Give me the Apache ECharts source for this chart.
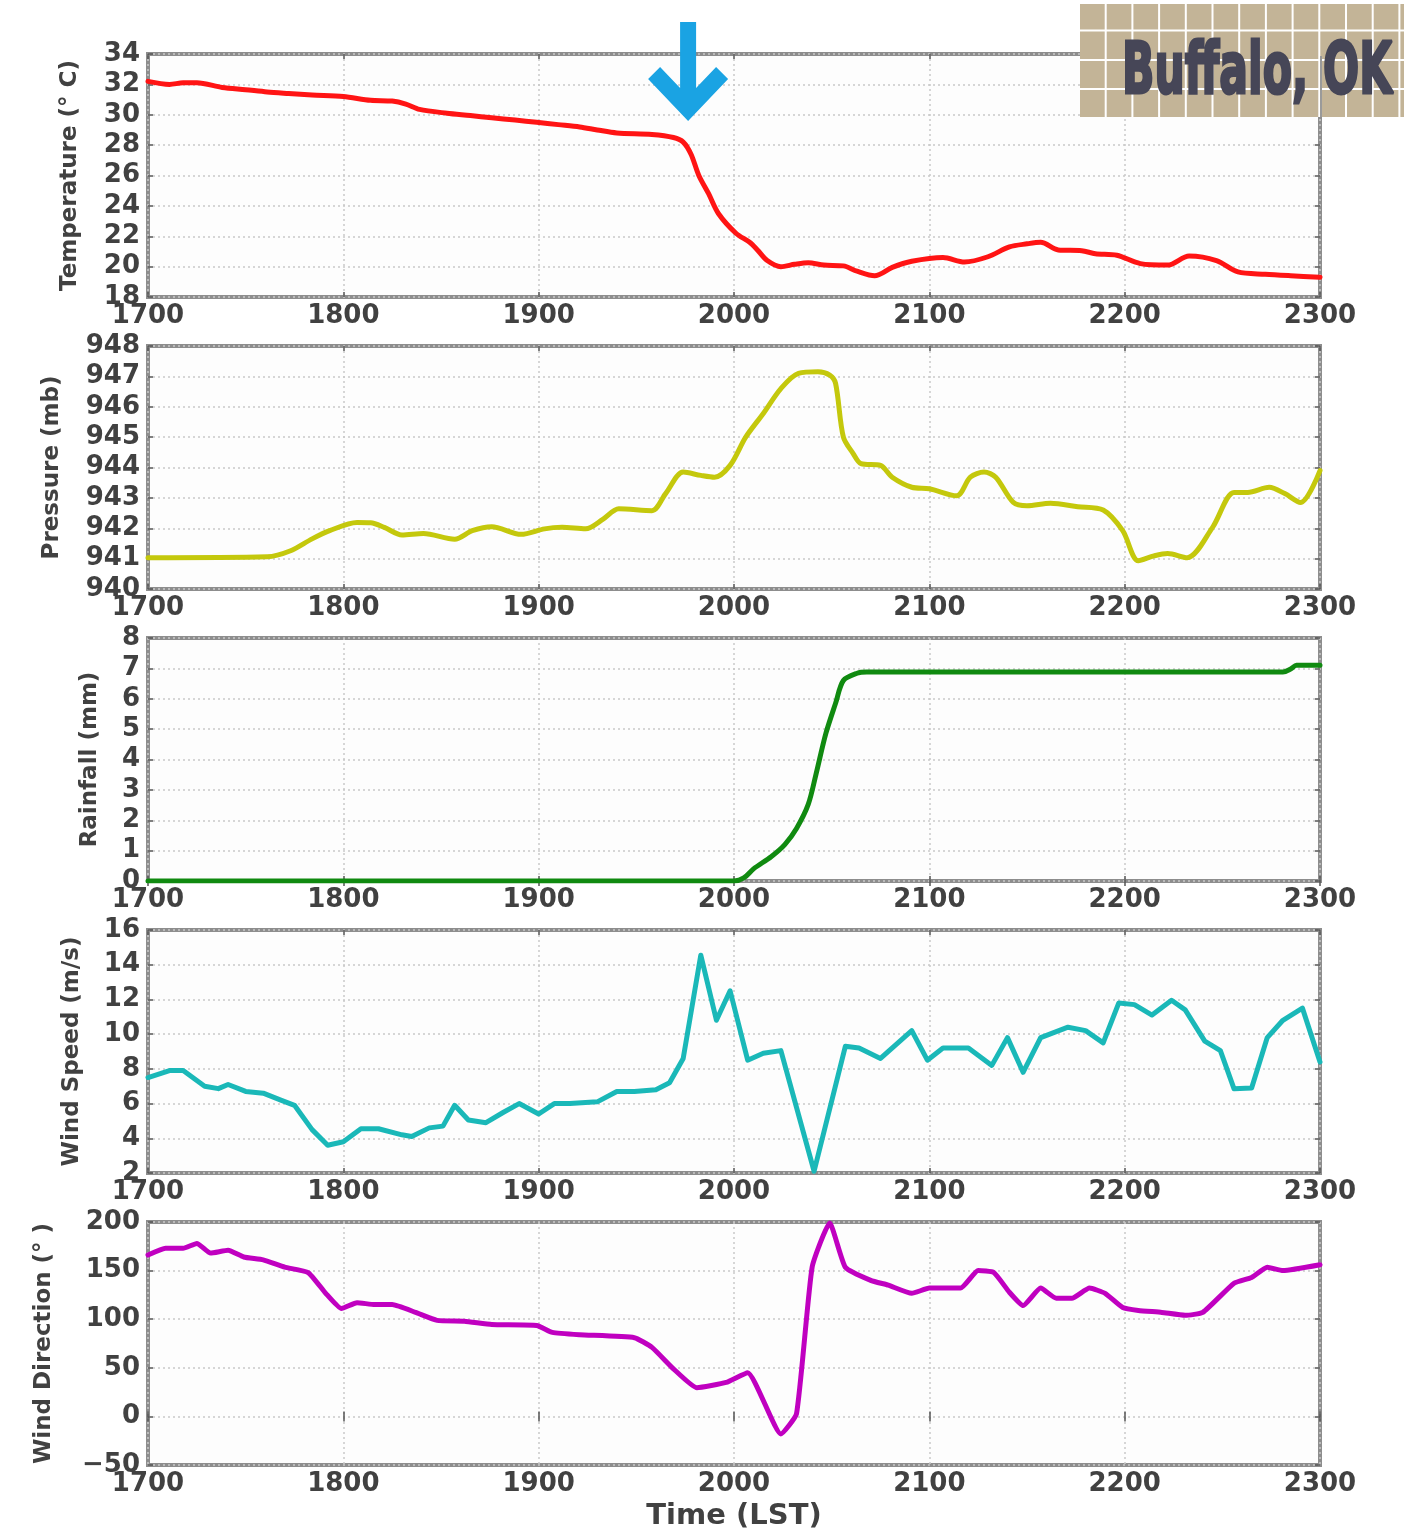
<!DOCTYPE html>
<html>
<head>
<meta charset="utf-8">
<title>Buffalo, OK surface observations</title>
<script src="https://cdn.jsdelivr.net/npm/echarts@6/dist/echarts.min.js"></script>
<style>
  html, body { margin: 0; padding: 0; background: #ffffff; }
  #chart { width: 1404px; height: 1537px; }
</style>
</head>
<body>
<div id="chart"></div>
<script>
// ---- Observations, time in LST (HHMM scale) ----
const xTicks = [1700, 1800, 1900, 2000, 2100, 2200, 2300];

const tempTime = [1700, 1711, 1718, 1725, 1738, 1750, 1761, 1772, 1784, 1800, 1814, 1825, 1832, 1839, 1853, 1865, 1876, 1888, 1899, 1910, 1921, 1930, 1940, 1958, 1969, 1974, 1978, 1982, 1987, 1992, 2001, 2008, 2012, 2017, 2024, 2031, 2038, 2046, 2056, 2063, 2072, 2081, 2091, 2107, 2118, 2130, 2141, 2150, 2157, 2166, 2178, 2185, 2196, 2208, 2222, 2233, 2247, 2258, 2272, 2285, 2300];
const tempC = [32.2, 32.0, 32.1, 32.1, 31.8, 31.65, 31.5, 31.4, 31.3, 31.2, 30.95, 30.9, 30.7, 30.35, 30.1, 29.95, 29.8, 29.65, 29.5, 29.35, 29.2, 29.0, 28.8, 28.7, 28.5, 28.2, 27.4, 26.0, 24.8, 23.5, 22.2, 21.6, 21.1, 20.4, 20.0, 20.15, 20.25, 20.1, 20.05, 19.7, 19.4, 19.95, 20.35, 20.6, 20.3, 20.65, 21.3, 21.5, 21.6, 21.1, 21.05, 20.85, 20.75, 20.2, 20.1, 20.7, 20.4, 19.65, 19.5, 19.4, 19.3];

const presTime = [1700, 1761, 1773, 1784, 1793, 1807, 1814, 1821, 1830, 1841, 1857, 1866, 1876, 1891, 1903, 1912, 1924, 1933, 1941, 1958, 1965, 1974, 1983, 1990, 1998, 2006, 2015, 2024, 2033, 2043, 2049, 2052, 2056, 2061, 2065, 2075, 2081, 2091, 2100, 2114, 2121, 2128, 2134, 2143, 2150, 2162, 2176, 2189, 2199, 2207, 2215, 2222, 2232, 2245, 2256, 2263, 2274, 2282, 2290, 2300];
const presMb = [941.03, 941.06, 941.26, 941.65, 941.92, 942.19, 942.18, 942.03, 941.78, 941.83, 941.64, 941.92, 942.05, 941.8, 941.98, 942.03, 941.98, 942.3, 942.64, 942.58, 943.14, 943.85, 943.74, 943.68, 944.07, 945.0, 945.78, 946.6, 947.1, 947.15, 947.04, 946.77, 945.0, 944.46, 944.13, 944.07, 943.68, 943.35, 943.3, 943.07, 943.68, 943.85, 943.68, 942.85, 942.74, 942.82, 942.71, 942.6, 941.92, 940.93, 941.09, 941.17, 941.03, 942.03, 943.18, 943.18, 943.35, 943.14, 942.85, 943.9];

const rainTime = [1700, 2000, 2005, 2010, 2019, 2026, 2032, 2038, 2042, 2047, 2052, 2056, 2063, 2068, 2100, 2200, 2281, 2285, 2288, 2300];
const rainMm = [0, 0, 0.1, 0.4, 0.8, 1.2, 1.73, 2.52, 3.52, 4.85, 5.85, 6.6, 6.84, 6.88, 6.88, 6.88, 6.88, 6.98, 7.1, 7.1];

const windTime = [1700, 1711, 1718, 1729, 1736, 1741, 1750, 1759, 1768, 1775, 1784, 1792, 1800, 1809, 1818, 1830, 1835, 1844, 1851, 1857, 1864, 1873, 1882, 1890, 1900, 1908, 1916, 1930, 1940, 1949, 1960, 1967, 1974, 1983, 1991, 1998, 2007, 2015, 2024, 2041, 2057, 2064, 2075, 2091, 2099, 2107, 2120, 2132, 2140, 2148, 2157, 2171, 2180, 2189, 2197, 2205, 2214, 2224, 2231, 2241, 2249, 2256, 2265, 2273, 2281, 2291, 2300];
const windMs = [7.5, 7.9, 7.9, 7.0, 6.86, 7.1, 6.7, 6.6, 6.2, 5.9, 4.5, 3.6, 3.8, 4.55, 4.55, 4.2, 4.1, 4.6, 4.7, 5.9, 5.05, 4.9, 5.5, 6.0, 5.4, 6.0, 6.0, 6.1, 6.7, 6.7, 6.8, 7.2, 8.6, 14.55, 10.8, 12.5, 8.5, 8.9, 9.05, 2.1, 9.3, 9.2, 8.6, 10.2, 8.5, 9.2, 9.2, 8.2, 9.8, 7.8, 9.8, 10.4, 10.2, 9.5, 11.8, 11.7, 11.1, 11.95, 11.4, 9.6, 9.05, 6.85, 6.9, 9.8, 10.8, 11.5, 8.4];

const dirTime = [1700, 1709, 1718, 1725, 1732, 1741, 1749, 1759, 1770, 1782, 1791, 1799, 1807, 1816, 1825, 1837, 1848, 1862, 1876, 1899, 1907, 1921, 1949, 1958, 1969, 1981, 1996, 2007, 2024, 2032, 2040, 2049, 2057, 2070, 2079, 2091, 2100, 2116, 2125, 2133, 2141, 2148, 2157, 2165, 2173, 2182, 2190, 2199, 2207, 2219, 2231, 2240, 2256, 2265, 2273, 2281, 2300];
const dirDeg = [166, 173, 173, 178, 168, 171, 164, 161, 153.5, 148, 126.6, 111, 117, 115, 115, 107, 98.8, 98, 94.6, 93.6, 86.4, 84, 81, 71, 49, 29.5, 35, 45, -18, 2.7, 153.5, 199, 153.5, 140, 135, 126.6, 132, 132, 150, 148, 127.7, 114, 132, 121.5, 121.5, 132, 126.6, 112, 109, 107, 104, 107, 137, 143, 153.5, 150, 156];

// Time of the frontal passage flagged above the temperature trace
const passageTime = 1976.5;
const passageTempLevel = 32.85;

// ---- Panel layout ----
const LEFT = 148, RIGHT = 84, TOP0 = 54, STEP = 292, PH = 243;
const FONT = 'DejaVu Sans';
const TXT = '#414141';

const panels = [
  { title: 'Temperature (\u00b0 C)', time: tempTime, vals: tempC, min: 18, max: 34, step: 2, color: '#ff1414', gap: 66, smooth: 0.3 },
  { title: 'Pressure (mb)', time: presTime, vals: presMb, min: 940, max: 948, step: 1, color: '#c4c80c', gap: 84, smooth: 0.3 },
  { title: 'Rainfall (mm)', time: rainTime, vals: rainMm, min: 0, max: 8, step: 1, color: '#108a10', gap: 46, smooth: 0.3 },
  { title: 'Wind Speed (m/s)', time: windTime, vals: windMs, min: 2, max: 16, step: 2, color: '#1ab8b8', gap: 64, smooth: 0 },
  { title: 'Wind Direction (\u00b0 )', time: dirTime, vals: dirDeg, min: -50, max: 200, step: 50, color: '#c000c0', gap: 92, smooth: 0.15 }
];

const gridLine = { show: true, lineStyle: { color: '#c9c9c9', width: 1.5, type: [2, 3] } };
const tickStyle = { show: true, inside: true, length: 5, lineStyle: { color: '#555', width: 1.5 } };
const tickText = { fontFamily: FONT, fontSize: 26, fontWeight: 'bold', color: TXT };
const nameText = { fontFamily: FONT, fontSize: 23, fontWeight: 'bold', color: TXT };

const grids = [], xAxes = [], yAxes = [], series = [];
panels.forEach((p, i) => {
  grids.push({
    left: LEFT, right: RIGHT, top: TOP0 + STEP * i, height: PH,
    show: true, borderColor: '#8d8d8d', borderWidth: 4, backgroundColor: '#fdfdfd'
  });
  const last = i === panels.length - 1;
  // bottom time axis with labels
  xAxes.push({
    type: 'value', gridIndex: i, min: xTicks[0], max: xTicks[xTicks.length - 1], interval: 100,
    position: 'bottom',
    axisLine: { show: false }, axisTick: tickStyle,
    axisLabel: Object.assign({ margin: 6, formatter: v => String(v) }, tickText),
    splitLine: gridLine,
    name: last ? 'Time (LST)' : '', nameLocation: 'middle', nameGap: 37,
    nameTextStyle: Object.assign({}, nameText, { fontSize: 29 })
  });
  // top time axis: tick marks only
  xAxes.push({
    type: 'value', gridIndex: i, min: xTicks[0], max: xTicks[xTicks.length - 1], interval: 100,
    position: 'top', axisLine: { show: false }, axisTick: tickStyle,
    axisLabel: { show: false }, splitLine: { show: false }
  });
  yAxes.push({
    type: 'value', gridIndex: i, min: p.min, max: p.max, interval: p.step, position: 'left',
    axisLine: { show: false }, axisTick: tickStyle,
    axisLabel: Object.assign({ margin: 8, formatter: v => String(v).replace('-', '\u2212') }, tickText),
    splitLine: gridLine,
    name: p.title, nameLocation: 'middle', nameGap: p.gap,
    nameTextStyle: Object.assign({}, nameText)
  });
  yAxes.push({
    type: 'value', gridIndex: i, min: p.min, max: p.max, interval: p.step, position: 'right',
    axisLine: { show: false }, axisTick: tickStyle,
    axisLabel: { show: false }, splitLine: { show: false }
  });
  const s = {
    type: 'line', xAxisIndex: 2 * i, yAxisIndex: 2 * i,
    data: p.time.map((t, k) => [t, p.vals[k]]),
    showSymbol: false, smooth: p.smooth,
    lineStyle: { color: p.color, width: 5, cap: 'round', join: 'round' }, itemStyle: { color: p.color },
    z: 5
  };
  if (i === 0) {
    s.markPoint = {
      silent: true,
      symbol: 'path://M32 0 L48 0 L48 66 L68 45 L80 57 L40 99 L0 57 L12 45 L32 66 Z',
      symbolSize: [80, 99],
      itemStyle: { color: '#1aa3e3' },
      label: { show: false },
      data: [{ coord: [passageTime, passageTempLevel] }]
    };
  }
  series.push(s);
});

// Station tag: tiled plate with the station name
const plate = { x: 1080, y: 4, w: 324, h: 113 };
const tagParts = [{
  type: 'rect', shape: { x: plate.x, y: plate.y, width: plate.w, height: plate.h },
  style: { fill: '#c3b497' }, z: 100
}];
for (let gx = plate.x + 25.7; gx < plate.x + plate.w; gx += 26.7) {
  tagParts.push({ type: 'line', shape: { x1: gx, y1: plate.y, x2: gx, y2: plate.y + plate.h },
    style: { stroke: '#ffffff', lineWidth: 2 }, z: 101 });
}
[30.5, 60, 89].forEach(gy => {
  tagParts.push({ type: 'line', shape: { x1: plate.x, y1: gy, x2: plate.x + plate.w, y2: gy },
    style: { stroke: '#ffffff', lineWidth: 2 }, z: 101 });
});
// right frame edge of the top panel shows through the plate
tagParts.push({ type: 'line', shape: { x1: 1321, y1: 56, x2: 1321, y2: plate.y + plate.h },
  style: { stroke: '#9a9a9a', lineWidth: 2 }, z: 101 });
tagParts.push({
  type: 'text', x: 1122, y: 110, scaleX: 0.6, z: 102,
  style: { text: 'Buffalo, OK', fontFamily: FONT, fontWeight: 'bold', fontSize: 71,
    fill: '#464657', stroke: '#464657', lineWidth: 3,
    textAlign: 'left', textVerticalAlign: 'bottom' }
});

const chart = echarts.init(document.getElementById('chart'), null, { renderer: 'canvas' });
chart.setOption({
  animation: false,
  backgroundColor: '#ffffff',
  grid: grids,
  xAxis: xAxes,
  yAxis: yAxes,
  series: series,
  graphic: tagParts
});
</script>
</body>
</html>
